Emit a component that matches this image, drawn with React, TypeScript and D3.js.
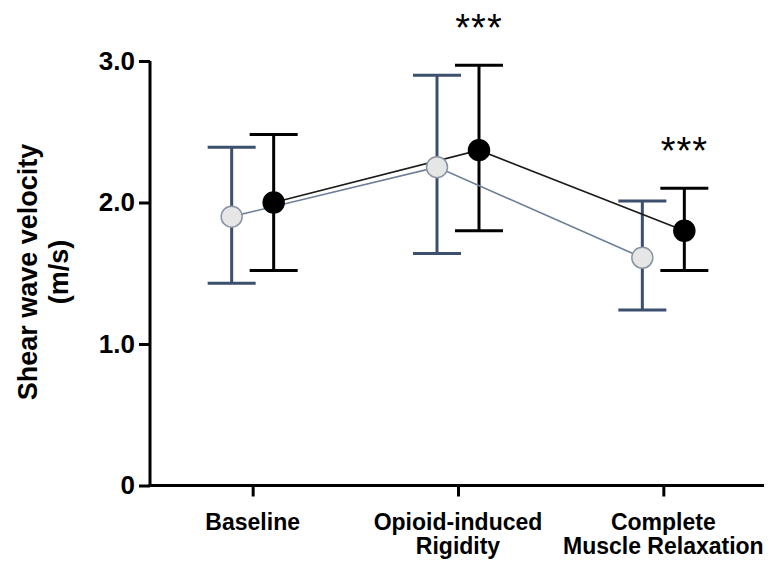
import React, { useEffect, useRef } from 'react';
import * as d3 from 'd3';

const categories = ['Baseline', 'Opioid-induced\nRigidity', 'Complete\nMuscle Relaxation'];
const grayMean = [1.9, 2.25, 1.61];
const grayLow = [1.43, 1.64, 1.24];
const grayHigh = [2.39, 2.9, 2.01];
const blackMean = [2.0, 2.37, 1.8];
const blackLow = [1.52, 1.8, 1.52];
const blackHigh = [2.48, 2.97, 2.1];
const significance = ['', '***', '***'];
const yTicks = [0, 1, 2, 3];
const yTickLabels = ['0', '1.0', '2.0', '3.0'];

const FONT = 'Liberation Sans, Arial, sans-serif';

function Chart() {
  const ref = useRef<SVGSVGElement>(null);

  useEffect(() => {
    const svg = d3.select(ref.current);
    svg.selectAll('*').remove();

    const x = d3.scalePoint().domain(categories).range([150, 766]).padding(0.5);
    const y = d3.scaleLinear().domain([0, 3]).range([485.5, 61]);
    const offset = 21;

    // y axis
    const yAxis = svg
      .append('g')
      .attr('transform', 'translate(150,0)')
      .call(d3.axisLeft(y).tickValues(yTicks).tickSize(11).tickFormat((d, i) => yTickLabels[i]));
    yAxis.select('.domain').attr('stroke', '#000').attr('stroke-width', 3).attr('d', `M0,${y(3)}V${y(0) + 1.5}`);
    yAxis.selectAll('.tick line').attr('stroke', '#000').attr('stroke-width', 3);
    yAxis
      .selectAll('.tick text')
      .attr('font-family', FONT)
      .attr('font-weight', 'bold')
      .attr('font-size', 26)
      .attr('fill', '#000')
      .attr('x', -15);

    // x axis
    const xAxis = svg
      .append('g')
      .attr('transform', `translate(0,${y(0)})`)
      .call(d3.axisBottom(x).tickSize(11).tickFormat(() => ''));
    xAxis.select('.domain').attr('stroke', '#000').attr('stroke-width', 3).attr('d', `M148.5,0H766`);
    xAxis.selectAll('.tick line').attr('stroke', '#000').attr('stroke-width', 3);

    const labels = svg
      .append('g')
      .selectAll('text')
      .data(categories)
      .join('text')
      .attr('font-family', FONT)
      .attr('font-weight', 'bold')
      .attr('font-size', 23)
      .attr('text-anchor', 'middle')
      .attr('transform', d => `translate(${x(d)!},${y(0) + 44})`);
    labels
      .selectAll('tspan')
      .data(d => d.split('\n'))
      .join('tspan')
      .attr('x', 0)
      .attr('dy', (d, i) => (i === 0 ? 0 : 24))
      .text(d => d);

    // axis title
    const title = svg
      .append('text')
      .attr('font-family', FONT)
      .attr('font-weight', 'bold')
      .attr('font-size', 27)
      .attr('text-anchor', 'middle')
      .attr('transform', 'translate(37,272) rotate(-90)');
    title.append('tspan').attr('x', 0).attr('dy', 0).text('Shear wave velocity');
    title.append('tspan').attr('x', 0).attr('dy', 31).text('(m/s)');

    const series = [
      { mean: grayMean, low: grayLow, high: grayHigh, dx: -offset, bar: '#3c4f6e', line: '#6d7e98', fill: '#e6e6e6', stroke: '#8a94a3' },
      { mean: blackMean, low: blackLow, high: blackHigh, dx: offset, bar: '#000', line: '#1a1a1a', fill: '#000', stroke: '#000' }
    ];

    series.forEach(s => {
      const cx = (i: number) => x(categories[i])! + s.dx;
      const idx = d3.range(categories.length);

      const g = svg.append('g');
      // error bars
      g.selectAll('line.v')
        .data(idx)
        .join('line')
        .attr('x1', cx)
        .attr('x2', cx)
        .attr('y1', i => y(s.low[i]))
        .attr('y2', i => y(s.high[i]))
        .attr('stroke', s.bar)
        .attr('stroke-width', 3);
      [s.low, s.high].forEach(arr => {
        g.append('g')
          .selectAll('line')
          .data(idx)
          .join('line')
          .attr('x1', i => cx(i) - 24)
          .attr('x2', i => cx(i) + 24)
          .attr('y1', i => y(arr[i]))
          .attr('y2', i => y(arr[i]))
          .attr('stroke', s.bar)
          .attr('stroke-width', 3);
      });
    });

    series.forEach(s => {
      const cx = (i: number) => x(categories[i])! + s.dx;
      const idx = d3.range(categories.length);
      const line = d3
        .line<number>()
        .x(i => cx(i))
        .y(i => y(s.mean[i]));
      svg
        .append('path')
        .attr('d', line(idx))
        .attr('fill', 'none')
        .attr('stroke', s.line)
        .attr('stroke-width', 1.6);
    });

    series.forEach(s => {
      const cx = (i: number) => x(categories[i])! + s.dx;
      svg
        .append('g')
        .selectAll('circle')
        .data(d3.range(categories.length))
        .join('circle')
        .attr('cx', cx)
        .attr('cy', i => y(s.mean[i]))
        .attr('r', 10.5)
        .attr('fill', s.fill)
        .attr('stroke', s.stroke)
        .attr('stroke-width', 1.5);
    });

    // significance markers
    svg
      .append('g')
      .selectAll('text')
      .data(categories)
      .join('text')
      .attr('x', d => x(d)! + offset)
      .attr('y', (d, i) => y(blackHigh[i]) - 24)
      .attr('text-anchor', 'middle')
      .attr('font-family', FONT)
      .attr('font-size', 38)
      .attr('letter-spacing', 1)
      .text((d, i) => significance[i]);
  }, []);

  return <svg ref={ref} width={772} height={567} style={{ display: 'block' }} />;
}

export default function App() {
  return (
    <div style={{ margin: -8, background: '#fff' }}>
      <Chart />
    </div>
  );
}
